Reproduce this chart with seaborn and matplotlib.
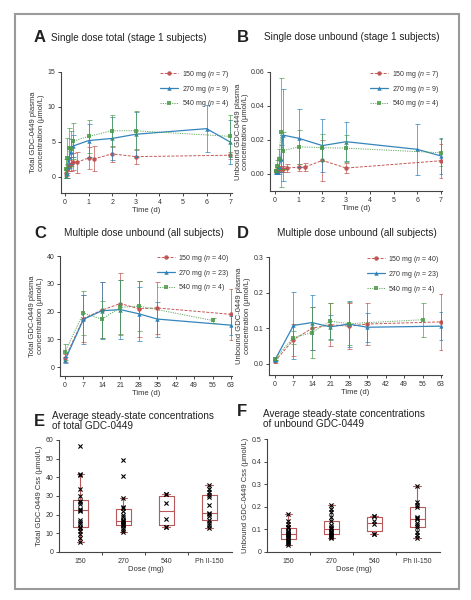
import matplotlib
matplotlib.use("Agg")
import matplotlib.pyplot as plt
import seaborn as sns
import pandas as pd
from matplotlib.patches import Rectangle

# ---- data -------------------------------------------------------------
dose_labels_sd = [r"150 mg ($n$ = 7)", r"270 mg ($n$ = 9)", r"540 mg ($n$ = 4)"]
dose_labels_md = [r"150 mg ($n$ = 40)", r"270 mg ($n$ = 23)", r"540 mg ($n$ = 4)"]

# A: single dose total (umol/L)
a_t150 = [0.04, 0.08, 0.17, 0.25, 0.33, 0.5, 1, 1.25, 2, 3, 7]
a_m150 = [0.6, 1.2, 1.6, 1.9, 2.2, 2.1, 2.7, 2.6, 3.3, 2.9, 3.1]
a_s150 = [0.4, 0.6, 0.8, 1.0, 1.2, 1.5, 1.6, 1.8, 1.1, 1.1, 0.5]
a_t270 = [0.04, 0.08, 0.17, 0.25, 0.33, 1, 2, 3, 6, 7]
a_m270 = [0.1, 0.5, 2.8, 3.6, 4.4, 5.2, 5.5, 6.1, 6.9, 5.0]
a_s270 = [0.2, 0.6, 1.5, 1.8, 1.6, 2.4, 3.1, 3.2, 3.4, 3.1]
a_t540 = [0.04, 0.08, 0.17, 0.25, 0.33, 1, 2, 3, 7]
a_m540 = [1.2, 2.7, 4.2, 4.0, 5.1, 5.8, 6.6, 6.6, 5.8]
a_s540 = [1.3, 2.9, 2.8, 2.5, 2.6, 2.4, 2.3, 2.8, 3.0]

# B: single dose unbound (umol/L)
b_m150 = [0.0015, 0.002, 0.003, 0.003, 0.003, 0.0035, 0.004, 0.004, 0.008, 0.0035, 0.0078]
b_s150 = [0.001, 0.0015, 0.002, 0.002, 0.002, 0.0025, 0.002, 0.0025, 0.012, 0.003, 0.010]
b_m270 = [0.001, 0.002, 0.004, 0.009, 0.0229, 0.021, 0.0167, 0.019, 0.0145, 0.0106]
b_s270 = [0.001, 0.002, 0.004, 0.008, 0.027, 0.017, 0.0155, 0.0115, 0.0148, 0.0106]
b_m540 = [0.002, 0.005, 0.009, 0.0245, 0.0137, 0.016, 0.0155, 0.0152, 0.0125]
b_s540 = [0.001, 0.003, 0.006, 0.032, 0.011, 0.010, 0.008, 0.008, 0.008]

# C: multiple dose total (umol/L)
c_t = [0, 7, 14, 21, 28, 35, 63]
c_m150 = [3.2, 17.5, 20.5, 22.9, 21.0, 21.3, 19.0]
c_s150 = [1.5, 8.5, 10.0, 11.0, 10.0, 9.3, 9.1]
c_m270 = [2.5, 17.2, 20.3, 20.7, 19.2, 17.3, 15.1]
c_s270 = [1.0, 8.8, 10.2, 10.6, 9.8, 6.3, 3.4]
c_t540 = [0, 7, 14, 21, 28, 56]
c_m540 = [5.5, 19.5, 17.2, 21.5, 22.0, 16.8]
c_s540 = [3.0, 7.8, 6.7, 9.8, 9.0, 0.9]

# D: multiple dose unbound (umol/L)
d_m150 = [0.008, 0.068, 0.100, 0.110, 0.106, 0.112, 0.118]
d_s150 = [0.004, 0.045, 0.060, 0.060, 0.065, 0.060, 0.079]
d_m270 = [0.012, 0.108, 0.116, 0.104, 0.112, 0.103, 0.106]
d_s270 = [0.005, 0.095, 0.078, 0.033, 0.064, 0.041, 0.039]
d_m540 = [0.015, 0.074, 0.088, 0.120, 0.113, 0.124]
d_s540 = [0.005, 0.018, 0.072, 0.052, 0.060, 0.048]

# E/F: average steady-state concentrations per subject
groups = ["150", "270", "540", "Ph II-150"]
e_150 = [57, 42, 41.5, 34, 30, 27.5, 27, 25.5, 23, 22.5, 22, 17, 16, 15, 13.5, 13, 11, 9.5, 7.5, 5.5]
e_270 = [49.5, 40.5, 29, 24, 23.5, 22, 20, 18.5, 17, 16.5, 16, 15.5, 15, 14.5, 14.5, 13, 12, 10.5]
e_540 = [31, 31, 26.5, 17.5, 13.5, 13.5]
e_ph2 = [36, 34, 32, 30.5, 29.5, 25, 21, 20.5, 19.5, 17, 15.5, 14.5, 13]
f_150 = [0.17, 0.135, 0.125, 0.11, 0.11, 0.105, 0.095, 0.09, 0.085, 0.08, 0.08, 0.075,
         0.07, 0.065, 0.06, 0.055, 0.05, 0.045, 0.04, 0.03]
f_270 = [0.21, 0.19, 0.175, 0.155, 0.135, 0.12, 0.11, 0.105, 0.1, 0.095, 0.09, 0.085,
         0.08, 0.075, 0.07, 0.065, 0.06]
f_540 = [0.16, 0.16, 0.135, 0.125, 0.08, 0.08]
f_ph2 = [0.29, 0.22, 0.21, 0.2, 0.155, 0.15, 0.145, 0.13, 0.12, 0.11, 0.09, 0.075, 0.062]

# ---- style ------------------------------------------------------------
sns.set_style("ticks")
plt.rcParams["font.family"] = ["Liberation Sans", "DejaVu Sans"]
plt.rcParams["mathtext.fontset"] = "custom"
plt.rcParams["mathtext.rm"] = "Liberation Sans"
plt.rcParams["mathtext.it"] = "Liberation Sans:italic"

colors = ["#c0504d", "#2a7fb8", "#4a9a48"]
markers = ["o", "^", "s"]
lstyles = [(0, (3, 1.5)), "-", (0, (1.2, 1.2))]
box_col = "#b8585a"
txt_col = "#333333"
W, H = 471, 600

fig = plt.figure(figsize=(W / 100, H / 100), dpi=100)
fig.patches.append(Rectangle((15 / W, 1 - 589 / H), 444 / W, 575 / H, transform=fig.transFigure,
                             fill=False, edgecolor="#9a9a9a", linewidth=1.5))


def add_ax(l, t, r, b):
    return fig.add_axes([l / W, 1 - b / H, (r - l) / W, (b - t) / H])


def style_ax(ax):
    sns.despine(ax=ax)
    for s in ["left", "bottom"]:
        ax.spines[s].set_linewidth(0.8)
        ax.spines[s].set_color("#444444")
    ax.tick_params(labelsize=5, length=2.5, width=0.7, pad=1.5, colors="#444444", labelcolor=txt_col)


def header(letter, text, x, y, tx=None):
    fig.text(x / W, 1 - y / H, letter, fontsize=12, fontweight="bold", va="center", color="#222222")
    tx = x + 17 if tx is None else tx
    fig.text(tx / W, 1 - y / H, text, fontsize=7.2, va="center", color="#222222", linespacing=1.1)


def pk_panel(ax, series, labels):
    for i, (t, m, s) in enumerate(series):
        sns.lineplot(x=t, y=m, ax=ax, color=colors[i], marker=markers[i], markersize=3.2,
                     markeredgewidth=0, linewidth=0.9 if i == 1 else 0.7, linestyle=lstyles[i],
                     label=labels[i], alpha=0.95 if i != 2 else 0.85)
        ax.errorbar(t, m, yerr=s, fmt="none", ecolor=colors[i], elinewidth=0.6,
                    capsize=1.8, capthick=0.6, alpha=0.8)
    leg = ax.legend(loc="upper right", bbox_to_anchor=(1.0, 1.05), frameon=False, fontsize=5,
                    handlelength=2.6, labelspacing=0.55, handletextpad=0.5, borderaxespad=0)
    for tx in leg.get_texts():
        tx.set_color(txt_col)
    style_ax(ax)


# ---- A ----------------------------------------------------------------
axA = add_ax(61, 72, 232, 193)
pk_panel(axA, [(a_t150, a_m150, a_s150), (a_t270, a_m270, a_s270), (a_t540, a_m540, a_s540)],
         dose_labels_sd)
axA.set_xlim(-0.17, 7.08)
axA.set_ylim(-2.3, 15)
axA.set_xticks(range(8))
axA.set_yticks([0, 5, 10, 15])
axA.set_xlabel("Time (d)", fontsize=5.5, labelpad=1, color=txt_col)
axA.set_ylabel("Total GDC-0449 plasma\nconcentration (\u03bcmol/L)", fontsize=5.5, labelpad=2,
               color=txt_col, linespacing=1.1)
header("A", "Single dose total (stage 1 subjects)", 34, 38)

# ---- B ----------------------------------------------------------------
axB = add_ax(270, 72, 442, 191)
pk_panel(axB, [(a_t150, b_m150, b_s150), (a_t270, b_m270, b_s270), (a_t540, b_m540, b_s540)],
         dose_labels_sd)
axB.set_xlim(-0.21, 7.04)
axB.set_ylim(-0.01, 0.06)
axB.set_xticks(range(8))
axB.set_yticks([0, 0.02, 0.04, 0.06])
axB.set_yticklabels(["0.00", "0.02", "0.04", "0.06"])
axB.set_xlabel("Time (d)", fontsize=5.5, labelpad=1, color=txt_col)
axB.set_ylabel("Unbound GDC-0449 plasma\nconcentration (\u03bcmol/L)", fontsize=5.5, labelpad=1,
               color=txt_col, linespacing=1.1)
header("B", "Single dose unbound (stage 1 subjects)", 237, 37, tx=264)

# ---- C ----------------------------------------------------------------
axC = add_ax(60, 256, 232, 376)
pk_panel(axC, [(c_t, c_m150, c_s150), (c_t, c_m270, c_s270), (c_t540, c_m540, c_s540)],
         dose_labels_md)
axC.set_xlim(-1.9, 63.4)
axC.set_ylim(-3.2, 40)
axC.set_xticks(range(0, 64, 7))
axC.set_yticks([0, 10, 20, 30, 40])
axC.set_xlabel("Time (d)", fontsize=5.5, labelpad=1, color=txt_col)
axC.set_ylabel("Total GDC-0449 plasma\nconcentration (\u03bcmol/L)", fontsize=5.5, labelpad=2,
               color=txt_col, linespacing=1.1)
header("C", "Multiple dose unbound (all subjects)", 34, 233, tx=64)

# ---- D ----------------------------------------------------------------
axD = add_ax(269, 257, 442, 375)
pk_panel(axD, [(c_t, d_m150, d_s150), (c_t, d_m270, d_s270), (c_t540, d_m540, d_s540)],
         dose_labels_md)
axD.set_xlim(-2.3, 63.4)
axD.set_ylim(-0.031, 0.3)
axD.set_xticks(range(0, 64, 7))
axD.set_yticks([0, 0.1, 0.2, 0.3])
axD.set_xlabel("Time (d)", fontsize=5.5, labelpad=1, color=txt_col)
axD.set_ylabel("Unbound GDC-0449 plasma\nconcentration (\u03bcmol/L)", fontsize=5.5, labelpad=2,
               color=txt_col, linespacing=1.1)
header("D", "Multiple dose unbound (all subjects)", 237, 233, tx=277)


# ---- E / F ------------------------------------------------------------
def css_panel(ax, values):
    df = pd.DataFrame({"dose": [g for g, v in zip(groups, values) for _ in v],
                       "css": [x for v in values for x in v]})
    sns.boxplot(data=df, x="dose", y="css", order=groups, ax=ax, width=0.36, fill=False,
                color=box_col, linewidth=0.8, showfliers=False, whis=1.5,
                capprops={"color": box_col}, whiskerprops={"color": box_col},
                medianprops={"color": box_col})
    sns.stripplot(data=df, x="dose", y="css", order=groups, ax=ax, jitter=False, marker="x",
                  color="black", size=3, linewidth=0.8)
    ax.set_xlim(-0.5, 3.53)
    ax.set_xticks([0.5, 1.5, 2.5])
    ax.set_xticklabels([])
    ax.set_xticks(range(4), minor=True)
    ax.set_xticklabels(groups, minor=True)
    style_ax(ax)
    ax.tick_params(axis="x", which="minor", length=0, labelsize=5, pad=4, labelcolor=txt_col)
    ax.set_xlabel("Dose (mg)", fontsize=5.5, labelpad=1, color=txt_col)


axE = add_ax(59, 440, 232, 552)
css_panel(axE, [e_150, e_270, e_540, e_ph2])
axE.set_ylim(0, 60)
axE.set_yticks(range(0, 61, 10))
axE.set_ylabel("Total GDC-0449 Css (\u03bcmol/L)", fontsize=5.5, labelpad=2, color=txt_col)
header("E", "Average steady-state concentrations\nof total GDC-0449", 34, 421, tx=52)

axF = add_ax(267, 439, 440, 552)
css_panel(axF, [f_150, f_270, f_540, f_ph2])
axF.set_ylim(0, 0.5)
axF.set_yticks([0, 0.1, 0.2, 0.3, 0.4, 0.5])
axF.set_yticklabels(["0", "0.1", "0.2", "0.3", "0.4", "0.5"])
axF.set_ylabel("Unbound GDC-0449 Css (\u03bcmol/L)", fontsize=5.5, labelpad=2, color=txt_col)
header("F", "Average steady-state concentrations\nof unbound GDC-0449", 237, 419, tx=263)
fig.texts[-2].set_y(1 - 412 / H)

fig.savefig("out.png", dpi=100)
